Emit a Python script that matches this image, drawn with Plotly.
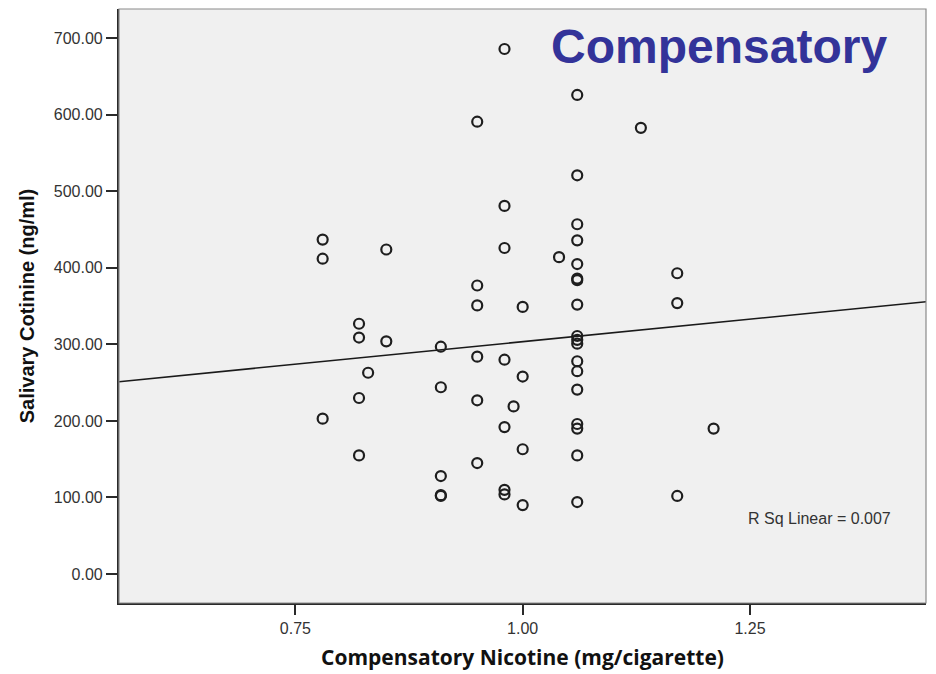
import plotly.graph_objects as go

# Compensatory nicotine yield per cigarette vs. salivary cotinine
nicotine = [
    0.78, 0.78, 0.78,
    0.82, 0.82, 0.82, 0.82,
    0.83,
    0.85, 0.85,
    0.91, 0.91, 0.91, 0.91, 0.91,
    0.95, 0.95, 0.95, 0.95, 0.95, 0.95,
    0.98, 0.98, 0.98, 0.98, 0.98, 0.98, 0.98,
    0.99,
    1.00, 1.00, 1.00, 1.00,
    1.04,
    1.06, 1.06, 1.06, 1.06, 1.06, 1.06, 1.06, 1.06, 1.06,
    1.06, 1.06, 1.06, 1.06, 1.06, 1.06, 1.06, 1.06, 1.06,
    1.13,
    1.17, 1.17, 1.17,
    1.21,
]
cotinine = [
    437, 412, 203,
    327, 309, 230, 155,
    263,
    424, 304,
    297, 244, 128, 103, 102,
    591, 377, 351, 284, 227, 145,
    686, 481, 426, 280, 192, 110, 104,
    219,
    349, 258, 163, 90,
    414,
    626, 521, 457, 436, 405, 386, 384, 352, 311,
    306, 301, 278, 265, 241, 196, 190, 155, 94,
    583,
    393, 354, 102,
    190,
]

# Linear fit line across the axis range
fit_x = [0.556, 1.444]
fit_y = [251.3, 355.8]
r_sq_label = "R Sq Linear = 0.007"

x_ticks = [0.75, 1.00, 1.25]
x_tick_text = ["0.75", "1.00", "1.25"]
y_ticks = [0, 100, 200, 300, 400, 500, 600, 700]
y_tick_text = ["0.00", "100.00", "200.00", "300.00", "400.00", "500.00", "600.00", "700.00"]

x_range = [0.556, 1.4436]
y_range = [-37.9, 738.3]

fig = go.Figure()

fig.add_trace(go.Scatter(
    x=fit_x, y=fit_y, mode="lines",
    line=dict(color="#1a1a1a", width=1.6),
    hoverinfo="skip", showlegend=False,
))

fig.add_trace(go.Scatter(
    x=nicotine, y=cotinine, mode="markers",
    marker=dict(symbol="circle-open", size=10, color="#1e1e1e",
                line=dict(width=2.2, color="#1e1e1e")),
    showlegend=False,
))

# thin grey frame on top/right
fig.add_shape(type="rect", xref="paper", yref="paper", x0=0, y0=0, x1=1, y1=1,
              line=dict(color="#8a8a8a", width=1.2), fillcolor="rgba(0,0,0,0)",
              layer="above")

fig.add_annotation(
    text="<b>Compensatory</b>", xref="paper", yref="paper",
    x=0.9545, y=0.985, xanchor="right", yanchor="top", showarrow=False,
    font=dict(family="Liberation Sans, Arial, sans-serif", size=48, color="#333399"),
)

fig.add_annotation(
    text=r_sq_label, xref="paper", yref="paper",
    x=0.9585, y=0.142, xanchor="right", yanchor="middle", showarrow=False,
    font=dict(family="Liberation Sans, Arial, sans-serif", size=16, color="#333333"),
)

fig.update_layout(
    width=936, height=674,
    margin=dict(l=119, r=10, t=9, b=71),
    paper_bgcolor="white",
    plot_bgcolor="#F0F0F0",
    font=dict(family="Liberation Sans, Arial, sans-serif", size=16, color="#333333"),
    xaxis=dict(
        range=x_range, tickvals=x_ticks, ticktext=x_tick_text,
        showgrid=False, zeroline=False,
        showline=True, linecolor="#2a2a2a", linewidth=2.2,
        ticks="outside", ticklen=10, tickwidth=1.8, tickcolor="#2a2a2a",
        tickfont=dict(size=16, color="#333333"),
        title=dict(text="<b>Compensatory Nicotine (mg/cigarette)</b>",
                   font=dict(family="Open Sans, DejaVu Sans, sans-serif", size=21, color="#111111"),
                   standoff=14),
    ),
    yaxis=dict(
        range=y_range, tickvals=y_ticks, ticktext=y_tick_text,
        showgrid=False, zeroline=False,
        showline=True, linecolor="#2a2a2a", linewidth=2.2,
        ticks="outside", ticklen=11, tickwidth=1.8, tickcolor="#2a2a2a",
        tickfont=dict(size=16, color="#333333"),
        title=dict(text="<b>Salivary Cotinine (ng/ml)</b>",
                   font=dict(family="Liberation Sans, Arial, sans-serif", size=20, color="#111111"),
                   standoff=14),
    ),
)

fig.write_html("out.html")
